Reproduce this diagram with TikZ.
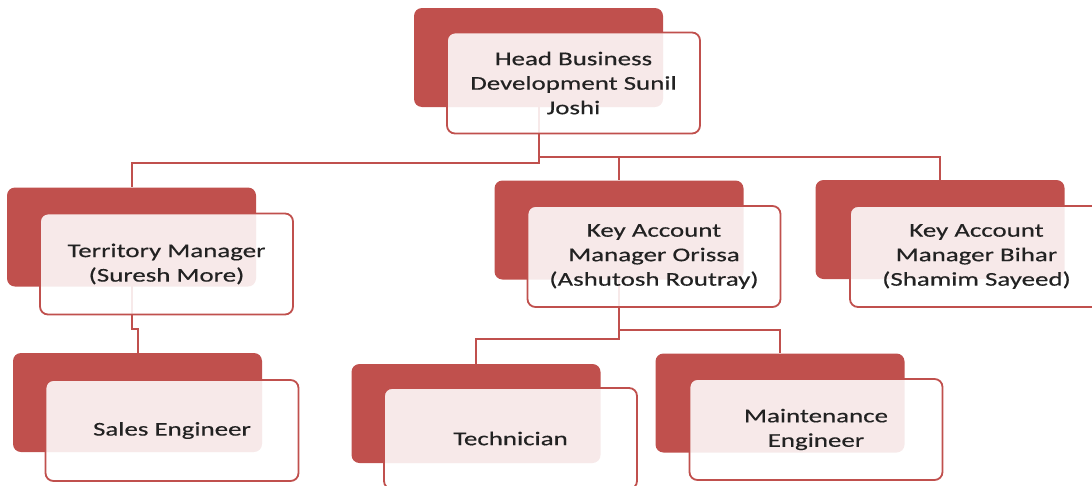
\documentclass[tikz,border=0pt]{standalone}
\usepackage{fontspec}
\setmainfont[FakeStretch=1.38,FakeBold=0.4]{Carlito}
\usetikzlibrary{backgrounds}
\definecolor{red1}{HTML}{C0504D}
\definecolor{txt}{HTML}{222222}
\tikzset{
  backbox/.style={fill=red1, rounded corners=8pt, minimum width=249pt, minimum height=99pt, inner sep=0pt},
  frontbox/.style={draw=red1, line width=1.8pt, fill=white, fill opacity=0.88, text opacity=1,
    rounded corners=8pt, minimum width=253pt, minimum height=101pt, inner sep=0pt,
    align=center, text=txt, font=\fontsize{19.5}{24.5}\selectfont},
  conn/.style={draw=red1, line width=2pt}
}
\begin{document}
\begin{tikzpicture}[x=1pt,y=-1pt]
\useasboundingbox (0,0) rectangle (1092,485);
% junctions
\coordinate (j1) at (538.5,163);
\coordinate (j2) at (538.5,157);
\coordinate (j3) at (131.5,329);
\coordinate (j4) at (619,339);
\coordinate (j5) at (619,330);
% back boxes
\node[backbox] (tb)  at (538.5,57.5) {};
\node[backbox] (trb) at (131.5,237) {};
\node[backbox] (sb)  at (137.5,402.5) {};
\node[backbox] (orb) at (619,230) {};
\node[backbox] (bhb) at (940,229.5) {};
\node[backbox] (tcb) at (476,413.5) {};
\node[backbox] (mnb) at (780,403) {};
% front boxes
\node[frontbox] (t)  at (573.5,83)  {Head Business\\Development Sunil\\Joshi};
\node[frontbox] (tr) at (166.5,264) {Territory Manager\\(Suresh More)};
\node[frontbox] (s)  at (172,430.5) {Sales Engineer};
\node[frontbox] (or) at (654,256.5) {Key Account\\Manager Orissa\\(Ashutosh Routray)};
\node[frontbox] (bh) at (976.5,256.5) {Key Account\\Manager Bihar\\(Shamim Sayeed)};
\node[frontbox] (tc) at (510.5,438.5) {Technician};
\node[frontbox] (mn) at (816,429.5) {Maintenance\\Engineer};
% connectors behind the boxes
\begin{scope}[on background layer]
\draw[conn] (tb.center) -- (j1) -| (trb.north);
\draw[conn] (tb.center) -- (j2) -| (orb.north);
\draw[conn] (j2) -| (bhb.north);
\draw[conn] (trb.center) -- (j3) -| (sb.north);
\draw[conn] (orb.center) -- (j4) -| (tcb.north);
\draw[conn] (j5) -| (mnb.north);
\end{scope}
\end{tikzpicture}
\end{document}
